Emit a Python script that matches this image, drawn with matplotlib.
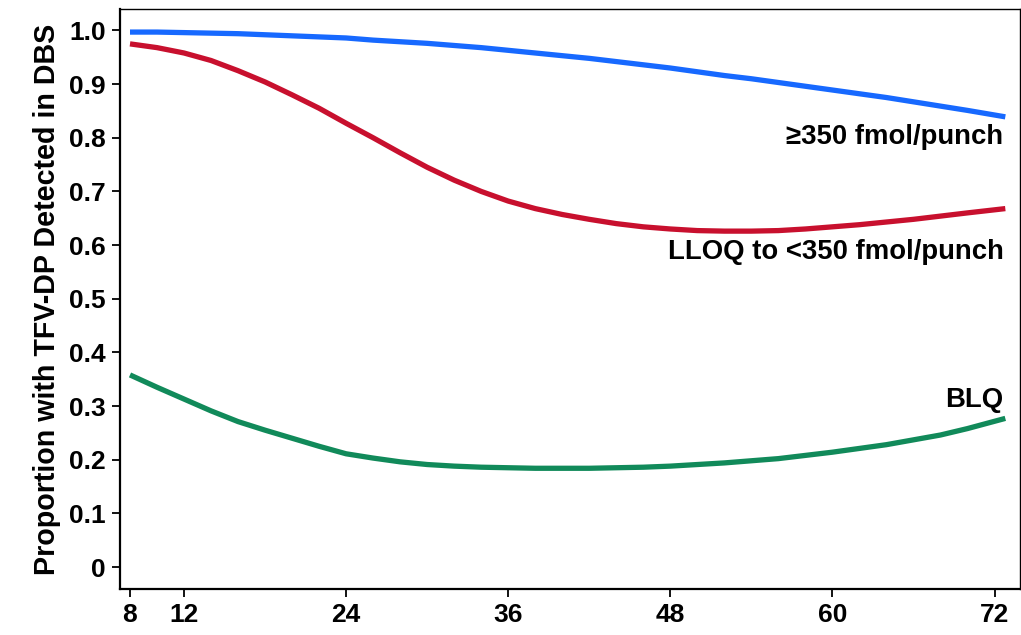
import matplotlib.pyplot as plt

# values (every 2 hours)
hours = [8, 10, 12, 14, 16, 18, 20, 22, 24, 26, 28, 30, 32, 34, 36, 38, 40,
         42, 44, 46, 48, 50, 52, 54, 56, 58, 60, 62, 64, 66, 68, 70, 72.8]
high = [0.997, 0.997, 0.996, 0.995, 0.994, 0.992, 0.990, 0.988, 0.986, 0.982,
        0.979, 0.976, 0.972, 0.968, 0.963, 0.958, 0.953, 0.948, 0.942, 0.936,
        0.930, 0.923, 0.916, 0.910, 0.903, 0.896, 0.889, 0.882, 0.875, 0.867,
        0.859, 0.851, 0.839]
lloq = [0.975, 0.968, 0.958, 0.944, 0.925, 0.904, 0.880, 0.855, 0.827, 0.800,
        0.772, 0.745, 0.721, 0.700, 0.682, 0.668, 0.657, 0.648, 0.640, 0.634,
        0.630, 0.627, 0.626, 0.626, 0.627, 0.630, 0.634, 0.638, 0.643, 0.648,
        0.654, 0.660, 0.668]
blq = [0.358, 0.335, 0.313, 0.291, 0.271, 0.255, 0.240, 0.225, 0.211, 0.203,
       0.196, 0.191, 0.188, 0.186, 0.185, 0.184, 0.184, 0.184, 0.185, 0.186,
       0.188, 0.191, 0.194, 0.198, 0.202, 0.208, 0.214, 0.221, 0.228, 0.237,
       0.246, 0.258, 0.277]

xticks = [8, 12, 24, 36, 48, 60, 72]
yticks = [0, 0.1, 0.2, 0.3, 0.4, 0.5, 0.6, 0.7, 0.8, 0.9, 1.0]
ylabels = ['0', '0.1', '0.2', '0.3', '0.4', '0.5', '0.6', '0.7', '0.8', '0.9', '1.0']

plt.rcParams['font.family'] = ['Liberation Sans', 'DejaVu Sans']
plt.rcParams['font.weight'] = 'bold'

fig = plt.figure(figsize=(10.21, 6.35), dpi=100)
ax = fig.add_axes([120 / 1021, 1 - 589 / 635, (1019.5 - 120) / 1021, (589 - 9) / 635])

lw = 3.8
ax.plot(hours, high, color='#1769ff', lw=lw, solid_capstyle='butt', solid_joinstyle='round')
ax.plot(hours, lloq, color='#c8102e', lw=lw, solid_capstyle='butt', solid_joinstyle='round')
ax.plot(hours, blq, color='#118a5a', lw=lw, solid_capstyle='butt', solid_joinstyle='round')

ax.text(72.67, 0.802, '\u2265350 fmol/punch', ha='right', va='center', fontsize=19.8, fontweight='bold')
ax.text(72.67, 0.587, 'LLOQ to <350 fmol/punch', ha='right', va='center', fontsize=19.8, fontweight='bold')
ax.text(72.67, 0.312, 'BLQ', ha='right', va='center', fontsize=19.8, fontweight='bold')

ax.set_xlim(7.26, 73.85)
ax.set_ylim(-0.041, 1.04)
ax.set_xticks(xticks)
ax.set_xticklabels([str(t) for t in xticks])
ax.set_yticks(yticks)
ax.set_yticklabels(ylabels)
ax.tick_params(axis='both', direction='out', length=6, width=1.3, labelsize=19, pad=4)
for lab in ax.get_xticklabels() + ax.get_yticklabels():
    lab.set_fontweight('bold')

for s in ['left', 'bottom']:
    ax.spines[s].set_linewidth(1.6)
for s in ['top', 'right']:
    ax.spines[s].set_linewidth(1.0)

ax.set_ylabel('Proportion with TFV-DP Detected in DBS', fontsize=20.6, fontweight='bold', labelpad=6)

plt.savefig('out.png', dpi=100)
